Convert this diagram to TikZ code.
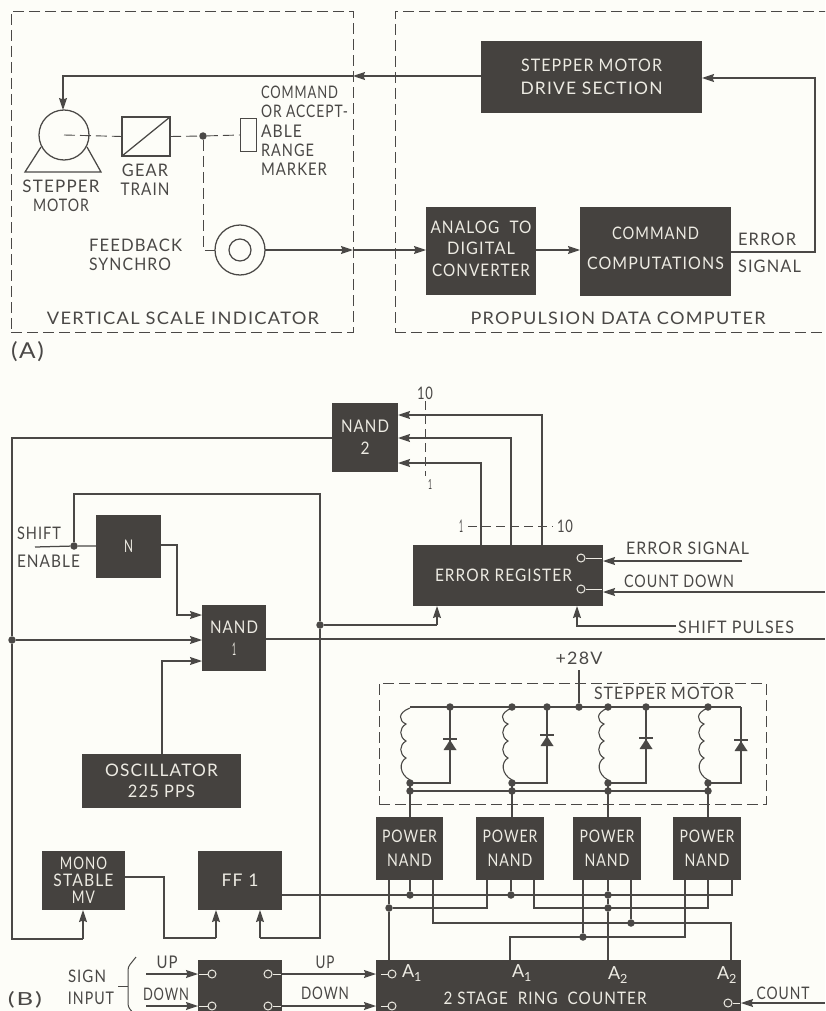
\documentclass[tikz,border=0pt]{standalone}
\usepackage{fontspec}
\usepackage{graphicx}
\usetikzlibrary{arrows.meta,calc}
\setmainfont[LetterSpace=7]{Lato}
\definecolor{paper}{HTML}{FDFDF8}
\definecolor{ink}{HTML}{4A4846}
\definecolor{boxc}{HTML}{45423F}
\definecolor{boxt}{HTML}{EDEBE3}
\newcommand{\tw}[2]{\resizebox{#1pt}{12.5pt}{#2}}
\newcommand{\twh}[3]{\resizebox{#1pt}{#2pt}{#3}}
\tikzset{
  wire/.style={draw=ink,line width=1.25pt,line join=miter},
  tip/.style={wire,-{Stealth[length=12pt,width=8pt,inset=1.5pt]}},
  dashln/.style={draw=ink,line width=0.9pt,dash pattern=on 11pt off 5pt},
  frame/.style={draw=ink,line width=0.9pt,dash pattern=on 11pt off 5pt,inner sep=0pt,outer sep=0pt},
  ls/.style={font=\fontsize{15.5}{#1}\selectfont},
  darkbox/.style={fill=boxc,text=boxt,inner sep=0pt,outer sep=0pt,align=center,ls=22},
  lbl/.style={text=ink,inner sep=0pt,outer sep=0pt,ls=19},
  blbl/.style={text=boxt,inner sep=0pt,outer sep=0pt,ls=19},
  pin/.style={draw=boxt,line width=1pt,fill=boxc},
  dotn/.style={circle,fill=ink,inner sep=0pt,minimum size=7.5pt},
  part/.style={draw=ink,line width=1.25pt}
}
\newcommand{\bx}[7][]{%
  \pgfmathsetmacro{\cxx}{(#3+#5)/2}\pgfmathsetmacro{\cyy}{(#4+#6)/2}%
  \pgfmathsetmacro{\wdd}{#5-#3}\pgfmathsetmacro{\htt}{#6-#4}%
  \node[darkbox,minimum width=\wdd pt,minimum height=\htt pt,#1] (#2) at (\cxx,\cyy) {#7};}
\newcommand{\frm}[5]{%
  \pgfmathsetmacro{\cxx}{(#2+#4)/2}\pgfmathsetmacro{\cyy}{(#3+#5)/2}%
  \pgfmathsetmacro{\wdd}{#4-#2}\pgfmathsetmacro{\htt}{#5-#3}%
  \node[frame,minimum width=\wdd pt,minimum height=\htt pt] (#1) at (\cxx,\cyy) {};}
\newcommand{\coil}[2]{%
  \draw[part,line width=1.1pt] (#1,#2) .. controls (#1-13,#2+5) and (#1-11,#2+13) .. (#1-4,#2+16)
    .. controls (#1-11,#2+20) and (#1-11,#2+29) .. (#1-4,#2+33)
    .. controls (#1-11,#2+37) and (#1-11,#2+46) .. (#1-4,#2+50)
    .. controls (#1-11,#2+54) and (#1-11,#2+66) .. (#1,#2+72);}
\newcommand{\diode}[2]{%
  \fill[ink] (#1,#2+1) -- (#1-6.5,#2+11) -- (#1+6.5,#2+11) -- cycle;
  \draw[part] (#1-7,#2) -- (#1+7,#2);}
\begin{document}
\begin{tikzpicture}[x=1pt,y=-1pt]
\useasboundingbox (0,0) rectangle (825,1011);
\clip (0,0) rectangle (825,1011);
\fill[paper] (0,0) rectangle (825,1011);

%% ---- part A
\frm{vsi}{11}{11}{353}{332}
\frm{pdc}{395}{11}{860}{332}
\bx[ls=23]{drive}{481}{41}{702}{113}{\tw{141}{STEPPER MOTOR}\\\tw{142}{DRIVE SECTION}}
\bx[ls=21.5]{adc}{426}{207}{536}{295}{\tw{101}{ANALOG\ \ TO}\\\tw{68}{DIGITAL}\\\tw{98}{CONVERTER}\rule[-5pt]{0pt}{5pt}}
\bx[ls=30]{cmd}{580}{207}{731}{296}{\tw{87}{COMMAND}\\\tw{137}{COMPUTATIONS}\rule[-7pt]{0pt}{7pt}}

\node[circle,draw=ink,line width=1.25pt,minimum size=50pt,inner sep=0pt,outer sep=0pt] (motor) at (64,135) {};
\coordinate (ml) at (41,147); \coordinate (mr) at (87,147);
\coordinate (bl) at (25,172); \coordinate (br) at (101,172);
\draw[part,line join=miter] (ml) -- (bl) -- (br) -- (mr);
\node[draw=ink,line width=1.25pt,minimum width=48pt,minimum height=39pt,inner sep=0pt,outer sep=0pt] (gear) at (146,136.5) {};
\draw[part] (gear.south west) -- (gear.north east);
\node[draw=ink,line width=1pt,minimum width=16pt,minimum height=33pt,inner sep=0pt,outer sep=0pt] (marker) at (248,135) {};
\node[circle,draw=ink,line width=1.25pt,minimum size=50pt,inner sep=0pt,outer sep=0pt] (syn) at (240,250) {};
\node[circle,draw=ink,line width=1.25pt,minimum size=22pt,inner sep=0pt,outer sep=0pt] (syni) at (240,250) {};
\node[dotn] (shj) at (203,136) {};
\coordinate (synk) at (203,250);
\draw[dashln] (motor.center) -- (gear.west);
\draw[dashln] (gear.east) -- (shj);
\draw[dashln] (shj) -- (marker.west);
\draw[dashln] (shj) -- (synk) -- (syn.west);

\coordinate (mtop) at (63,76);
\coordinate (dm1) at (353,76);
\draw[tip] (drive.west |- dm1) -- (dm1);
\draw[tip] (dm1) -- (mtop) -- (motor.north -| mtop);
\coordinate (sy1) at (353,250);
\draw[tip] (syn.east) -- (sy1);
\draw[tip] (sy1) -- (adc.west |- sy1);
\coordinate (ca) at (580,250);
\draw[tip] (adc.east |- ca) -- (ca);
\coordinate (e1) at (731,252); \coordinate (e2) at (815,252); \coordinate (e3) at (815,78); \coordinate (e4) at (702,78);
\draw[tip] (e1) -- (e2) -- (e3) -- (e4);

\node[lbl,anchor=west,align=left,ls=19.3] (cmdlab) at (261,131) {\tw{77}{COMMAND}\\\tw{87}{OR ACCEPT-}\\\tw{41}{ABLE}\\\tw{53}{RANGE}\\\tw{66}{MARKER}};
\node[lbl,align=center] (stl) at (61,196) {\tw{77}{STEPPER}\\\tw{56}{MOTOR}};
\node[lbl,align=center] (gtl) at (145,180) {\tw{46}{GEAR}\\\tw{49}{TRAIN}};
\node[lbl,anchor=west,align=left] (fbl) at (89,254.5) {\tw{93}{FEEDBACK}\\\tw{82}{SYNCHRO}};
\node[lbl] (vl) at (183,318) {\tw{272}{VERTICAL SCALE INDICATOR}};
\node[lbl] (pl) at (618,318) {\tw{295}{PROPULSION DATA COMPUTER}};
\node[lbl,anchor=west] (al) at (11,352) {\twh{33}{17}{(A)}};
\node[lbl,anchor=west] (el1) at (738,239) {\tw{58}{ERROR}};
\node[lbl,anchor=west] (el2) at (738,266) {\tw{63}{SIGNAL}};

%% ---- part B boxes
\bx{nand2}{332}{403}{398}{472}{\tw{48}{NAND}\\\tw{9}{2}}
\bx{nbox}{96}{515}{161}{578}{\tw{9}{N}}
\bx{nand1}{202}{605}{266}{671}{\tw{48}{NAND}\\\tw{4}{1}}
\bx{erreg}{413}{545}{603}{606}{\hspace*{-9pt}\tw{137}{ERROR REGISTER}}
\bx[ls=21]{osc}{82}{754}{241}{808}{\tw{113}{OSCILLATOR}\\\tw{67}{225 PPS}}
\bx[ls=17]{mono}{42}{851}{125}{910}{\tw{47}{MONO}\\\tw{60}{STABLE}\\\tw{23}{MV}}
\bx{ff}{198}{851}{282}{910}{\tw{37}{FF 1}}
\bx[ls=24]{pn1}{376}{817}{443}{880}{\tw{55}{POWER}\\\tw{45}{NAND}}
\bx[ls=24]{pn2}{476}{817}{544}{880}{\tw{55}{POWER}\\\tw{45}{NAND}}
\bx[ls=24]{pn3}{573}{817}{641}{880}{\tw{55}{POWER}\\\tw{45}{NAND}}
\bx[ls=24]{pn4}{673}{817}{741}{880}{\tw{55}{POWER}\\\tw{45}{NAND}}
\bx{sw}{198}{960}{282}{1040}{}
\bx{ring}{376}{960}{741}{1040}{}
\frm{smf}{379}{683}{766}{804}

%% NAND2 outputs / reset line
\coordinate (n2a) at (12,438); \coordinate (lj) at (12,640); \coordinate (n2b) at (12,939);
\coordinate (n2c) at (83,939);
\node[dotn] (ljd) at (lj) {};
\draw[wire] (nand2.west |- n2a) -- (n2a) -- (ljd) -- (n2b) -- (n2c);
\draw[tip] (n2c) -- (mono.south -| n2c);
\coordinate (li) at (202,640);
\draw[tip] (ljd) -- (li);

%% shift enable
\coordinate (s0) at (35,547);
\node[dotn] (sj) at (74,546) {};
\draw[wire] (s0) -- (sj) -- (nbox.west |- sj);
\coordinate (s1) at (74,494); \coordinate (s2) at (320,494); \coordinate (s3) at (320,938); \coordinate (s4) at (260,938);
\node[dotn] (sjr) at (320,625) {};
\draw[wire] (sj) -- (s1) -- (s2) -- (sjr) -- (s3) -- (s4);
\draw[tip] (s4) -- (ff.south -| s4);
\coordinate (s5) at (437,625);
\draw[wire] (sjr) -- (s5);
\draw[tip] (s5) -- (erreg.south -| s5);
\coordinate (n0) at (177,545); \coordinate (n1) at (177,615); \coordinate (n2) at (202,615);
\draw[tip] (nbox.east |- n0) -- (n0) -- (n1) -- (n2);
\coordinate (o1) at (162,661); \coordinate (o2) at (202,661);
\draw[tip] (osc.north -| o1) -- (o1) -- (o2);
\coordinate (nout) at (825,639);
\draw[wire] (nand1.east |- nout) -- (nout);

%% mono -> ff
\coordinate (m0) at (125,877); \coordinate (m1) at (164,877); \coordinate (m2) at (164,938); \coordinate (m3) at (216,938);
\draw[wire] (m0) -- (m1) -- (m2) -- (m3);
\draw[tip] (m3) -- (ff.south -| m3);

%% register outputs to NAND2
\foreach \px/\py/\nm in {481/463/a,511/438/b,542/415/c}{
  \coordinate (r\nm) at (\px,\py);
  \draw[tip] (erreg.north -| r\nm) -- (r\nm) -- (nand2.east |- r\nm);
}
\coordinate (dv1) at (425,401); \coordinate (dv2) at (425,476);
\draw[dashln,dash pattern=on 9pt off 5pt] (dv1) -- (dv2);
\coordinate (dh1) at (468,526); \coordinate (dh2) at (553,526);
\draw[dashln,dash pattern=on 9pt off 5pt] (dh1) -- (dh2);
\node[lbl] (l10a) at (425,393) {\tw{16}{10}};
\node[lbl] (l1a) at (430,484) {\twh{4}{10}{1}};
\node[lbl] (l1b) at (461,526) {\tw{4}{1}};
\node[lbl] (l10b) at (565,526) {\tw{16}{10}};

%% register inputs
\node[lbl,anchor=west] (esl) at (626,548) {\tw{123}{ERROR SIGNAL}};
\node[lbl,anchor=west] (cdl) at (624,581) {\tw{110}{COUNT DOWN}};
\node[lbl,anchor=west] (spl) at (678,627) {\tw{116}{SHIFT PULSES}};
\coordinate (es) at (742,561); \coordinate (cd) at (825,592);
\coordinate (sp) at (676,626); \coordinate (sp1) at (577,626);
\draw[tip] (es) -- (erreg.east |- es);
\draw[tip] (cd) -- (erreg.east |- cd);
\draw[tip] (sp) -- (sp1) -- (erreg.south -| sp1);
\node[circle,pin,minimum size=8pt,inner sep=0pt] (c1) at (581,558) {};
\node[circle,pin,minimum size=8pt,inner sep=0pt] (c2) at (581,589) {};
\draw[boxt,line width=1pt] (c1) -- (602,558);
\draw[boxt,line width=1pt] (c2) -- (602,589);

%% stepper motor
\node[lbl] (v28) at (579,658) {\tw{47}{+28V}};
\node[lbl,anchor=west] (sml) at (594,693) {\tw{140}{STEPPER MOTOR}};
\node[dotn] (rv) at (579,707) {};
\coordinate (vt) at (579,670);
\draw[wire] (vt) -- (rv);
\coordinate (rl) at (410,707); \coordinate (rr) at (741,707);
\draw[wire] (rl) -- (rr);
\foreach \x in {450,512,547,608,646,708}{ \node[dotn] at (\x,707) {}; }
\foreach \c/\d/\y in {410/450/739,512/547/735,608/646/738,708/741/740}{
  \coil{\c}{708}
  \draw[wire] (\c,783) -- (\d,783) -- (\d,707);
  \diode{\d}{\y}
  \node[dotn] at (\c,783) {};
  \node[dotn] at (\c,791) {};
}
\coordinate (bus1) at (410,791); \coordinate (bus2) at (708,791);
\coordinate (tp1) at (410,783); \coordinate (tp2) at (512,783); \coordinate (tp3) at (608,783); \coordinate (tp4) at (708,783);
\draw[wire] (bus1) -- (bus2);
\draw[wire] (tp1) -- (pn1.north -| tp1);
\draw[wire] (tp2) -- (pn2.north -| tp2);
\draw[wire] (tp3) -- (pn3.north -| tp3);
\draw[wire] (tp4) -- (pn4.north -| tp4);

%% FF1 bus and logic
\coordinate (f0) at (282,895); \coordinate (f1) at (732,895); \coordinate (f2) at (732,880);
\draw[wire] (f0) -- (f1) -- (f2);
\coordinate (j1) at (410,895); \coordinate (j2) at (511,895); \coordinate (j3) at (608,895);
\node[dotn] (j1d) at (j1) {}; \node[dotn] (j2d) at (j2) {}; \node[dotn] (j3d) at (j3) {};
\draw[wire] (pn1.south -| j1) -- (j1d);
\draw[wire] (pn2.south -| j2) -- (j2d);
\draw[wire] (pn3.south -| j3) -- (j3d);

\node[dotn] (k1) at (389,908) {};
\node[dotn] (k2) at (608,908) {};
\coordinate (a1) at (389,960);
\draw[wire] (pn1.south -| k1) -- (k1) -- (a1);
\coordinate (p2l) at (487,880); \coordinate (p2lb) at (487,908);
\draw[wire] (p2l) -- (p2lb) -- (k1);
\coordinate (p2r) at (534,880); \coordinate (p2rb) at (534,908); \coordinate (p4m) at (708,880); \coordinate (p4mb) at (708,908);
\draw[wire] (p2r) -- (p2rb) -- (p4mb) -- (p4m);
\draw[wire] (j3d) -- (k2) -- (ring.north -| k2);
\coordinate (p1r) at (433,880); \coordinate (p1rb) at (433,923); \coordinate (p4rb) at (731,923);
\draw[wire] (p1r) -- (p1rb) -- (p4rb) -- (ring.north -| p4rb);
\node[dotn] (k3) at (631,923) {};
\draw[wire] (pn3.south -| k3) -- (k3);
\node[dotn] (k4) at (583,937) {};
\draw[wire] (pn3.south -| k4) -- (k4);
\coordinate (p4l) at (685,880); \coordinate (p4lb) at (685,937); \coordinate (a1b) at (510,937);
\draw[wire] (p4l) -- (p4lb) -- (a1b) -- (ring.north -| a1b);

%% ring counter & switch
\node[blbl,font=\fontsize{18}{20}\selectfont] (ra1) at (412,973) {A\textsubscript{1}};
\node[blbl,font=\fontsize{18}{20}\selectfont] (ra2) at (522,973) {A\textsubscript{1}};
\node[blbl,font=\fontsize{18}{20}\selectfont] (ra3) at (618,975) {A\textsubscript{2}};
\node[blbl,font=\fontsize{18}{20}\selectfont] (ra4) at (727,975) {A\textsubscript{2}};
\node[blbl] (rt) at (545,998) {\tw{203}{2 STAGE\ \ RING\ \ COUNTER}};
\foreach \n/\y in {a/974,b/1006}{
  \node[circle,pin,minimum size=8pt,inner sep=0pt] (cl\n) at (212,\y) {};
  \node[circle,pin,minimum size=8pt,inner sep=0pt] (cr\n) at (268,\y) {};
  \node[circle,pin,minimum size=8pt,inner sep=0pt] (rc\n) at (392,\y) {};
  \draw[boxt,line width=1pt] (cl\n) -- (199,\y);
  \draw[boxt,line width=1pt] (cr\n) -- (281,\y);
  \draw[boxt,line width=1pt] (rc\n) -- (381,\y);
  \coordinate (in\n) at (146,\y);
  \draw[tip] (in\n) -- (sw.west |- in\n);
  \draw[tip] (sw.east |- in\n) -- (ring.west |- in\n);
}
\node[circle,pin,minimum size=8pt,inner sep=0pt] (rcc) at (728,1003) {};
\draw[boxt,line width=1pt] (rcc) -- (740,1003);
\coordinate (cin) at (825,1003);
\draw[tip] (cin) -- (ring.east |- cin);
\node[lbl] (cl) at (783,993) {\tw{53}{COUNT}};
\node[lbl] (u1) at (167,962) {\tw{21}{UP}};
\node[lbl] (d1) at (166,994) {\tw{46}{DOWN}};
\node[lbl] (u2) at (325,962) {\tw{19}{UP}};
\node[lbl] (d2) at (325,993) {\tw{48}{DOWN}};
\node[lbl] (sg) at (87,976) {\tw{38}{SIGN}};
\node[lbl] (ip) at (91,998) {\tw{46}{INPUT}};
\node[lbl,anchor=west] (bl2) at (8,1000) {\twh{34}{14}{(B)}};
\node[lbl,anchor=west] (shl1) at (17,533) {\tw{44}{SHIFT}};
\node[lbl,anchor=west] (shl2) at (17,561) {\tw{63}{ENABLE}};
\coordinate (b1) at (136,957); \coordinate (b2) at (128,967); \coordinate (b3) at (128,1007); \coordinate (b4) at (136,1016); \coordinate (b5) at (118,986); \coordinate (b6) at (128,986);
\draw[part,line width=1pt,rounded corners=3pt] (b1) -- (b2) -- (b3) -- (b4);
\draw[part,line width=1pt] (b5) -- (b6);
\end{tikzpicture}
\end{document}
